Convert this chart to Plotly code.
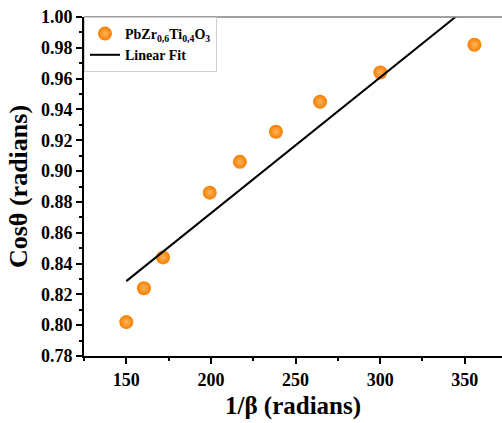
import plotly.graph_objects as go

# Data
inv_beta = [150.0, 160.4, 171.7, 199.3, 217.1, 238.4, 264.5, 300.1, 355.7]
cos_theta = [0.802, 0.824, 0.844, 0.886, 0.906, 0.9255, 0.945, 0.964, 0.982]

fit_x = [150.0, 355.7]
fit_y = [0.8286, 1.0099]

x_ticks = [150, 200, 250, 300, 350]
y_ticks = [0.78, 0.80, 0.82, 0.84, 0.86, 0.88, 0.90, 0.92, 0.94, 0.96, 0.98, 1.00]

FONT = "Liberation Serif"

fig = go.Figure()
fig.add_trace(go.Scatter(
    x=inv_beta, y=cos_theta, mode="markers",
    name="<b>PbZr<sub>0,6</sub>Ti<sub>0,4</sub>O<sub>3</sub></b>",
    marker=dict(size=14, color="#f57f00",
                gradient=dict(type="radial", color="#ffb25c"),
                line=dict(width=0)),
))
fig.add_trace(go.Scatter(
    x=fit_x, y=fit_y, mode="lines", name="<b>Linear Fit</b>",
    line=dict(color="black", width=2),
))

axis_common = dict(
    showline=True, linecolor="black", linewidth=2,
    ticks="outside", ticklen=6, tickwidth=1.5, tickcolor="black",
    showgrid=False, zeroline=False,
    tickfont=dict(family=FONT, size=18, color="black", weight="bold"),
)

fig.update_xaxes(
    range=[125, 372], tickvals=x_ticks,
    minor=dict(ticks="outside", ticklen=3, tickwidth=1.5, tickcolor="black", dtick=25, tick0=125),
    title=dict(text="<b>1/β (radians)</b>", font=dict(family=FONT, size=25, color="black"), standoff=8),
    **axis_common,
)
fig.update_yaxes(
    range=[0.78, 1.00], tickvals=y_ticks, tickformat=".2f",
    minor=dict(ticks="outside", ticklen=3, tickwidth=1.5, tickcolor="black", dtick=0.01, tick0=0.78),
    title=dict(text="<b>Cosθ (radians)</b>", font=dict(family=FONT, size=26, color="black"), standoff=6),
    **axis_common,
)

fig.add_shape(type="line", xref="paper", yref="paper", x0=0, x1=1, y0=1, y1=1,
              line=dict(color="#808080", width=1.5))

fig.update_layout(
    width=502, height=423,
    margin=dict(l=84, r=0, t=17, b=67),
    plot_bgcolor="white", paper_bgcolor="white",
    showlegend=True,
    legend=dict(
        x=0.0, y=1.0, xanchor="left", yanchor="top",
        bgcolor="rgba(255,255,255,1)", bordercolor="#d0d0d0", borderwidth=1,
        font=dict(family=FONT, size=14, color="black"),
        tracegroupgap=0, itemwidth=30,
    ),
)

fig.write_html("out.html")
